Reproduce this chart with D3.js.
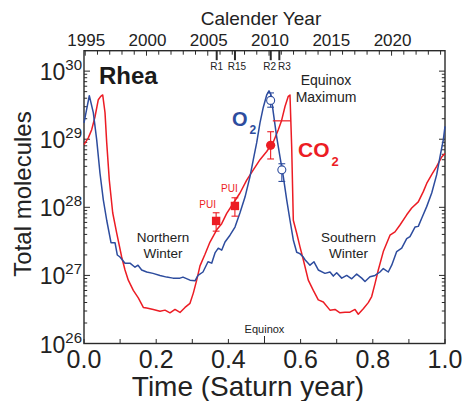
<!DOCTYPE html>
<html><head><meta charset="utf-8">
<script src="https://cdn.jsdelivr.net/npm/d3@7"></script>
<style>
body{margin:0;background:#fff}
svg{display:block;font-family:Arial,"Liberation Sans",Helvetica,sans-serif}
</style>
</head><body>
<svg id="chart" width="462" height="401"></svg>
<script>
// Rhea exosphere: total O2 and CO2 molecules through one Saturn year (log10 values)
const o2Time = [0,0.0147,0.0258,0.0352,0.0443,0.0535,0.0629,0.0748,0.0859,0.0922,0.0997,0.1136,0.1274,0.1413,0.1496,0.1598,0.1737,0.1911,0.2105,0.2291,0.2465,0.2659,0.2742,0.2936,0.3075,0.3158,0.3296,0.3435,0.3537,0.3629,0.3720,0.3814,0.3906,0.4044,0.4183,0.4321,0.4460,0.4598,0.4690,0.4784,0.4875,0.4967,0.5061,0.5125,0.5180,0.5244,0.5338,0.5429,0.5521,0.5615,0.5706,0.5798,0.5892,0.5980,0.6075,0.6122,0.6260,0.6371,0.6490,0.6676,0.6814,0.6906,0.7000,0.7139,0.7277,0.7416,0.7554,0.7693,0.7784,0.7922,0.8061,0.8199,0.8291,0.8429,0.8524,0.8662,0.8801,0.8939,0.9030,0.9169,0.9260,0.9355,0.9493,0.9632,0.9770,0.9861,0.9953,1.0];
const o2Log10 = [29.24,29.64,29.39,28.99,28.50,28.11,27.81,27.48,27.48,27.30,27.27,27.18,27.18,27.12,27.15,27.08,27.05,27.03,27.00,26.975,26.96,26.96,26.975,26.93,26.92,27.00,27.05,27.20,27.18,27.33,27.40,27.37,27.49,27.59,27.71,27.92,28.15,28.45,28.70,28.95,29.24,29.47,29.65,29.71,29.65,29.39,29.03,28.74,28.45,28.11,27.81,27.52,27.34,27.32,27.27,27.23,27.15,27.20,27.08,27.03,27.05,26.99,27.04,26.96,27.00,26.95,27.02,26.96,26.91,26.98,27.00,27.05,27.10,27.05,27.15,27.35,27.40,27.54,27.57,27.71,27.72,27.84,28.01,28.21,28.48,28.74,28.99,29.19];

const co2Time = [0,0.0119,0.0213,0.0305,0.0396,0.0463,0.0518,0.0582,0.0629,0.0701,0.0795,0.0906,0.1044,0.1136,0.1227,0.1366,0.1504,0.1643,0.1737,0.1920,0.2105,0.2244,0.2382,0.2521,0.2659,0.2798,0.2936,0.3028,0.3122,0.3213,0.3352,0.3490,0.3676,0.3814,0.3953,0.4136,0.4321,0.4507,0.4690,0.4875,0.5061,0.5244,0.5382,0.5476,0.5568,0.5659,0.5706,0.5753,0.5798,0.5892,0.5983,0.6075,0.6213,0.6352,0.6490,0.6629,0.6814,0.6953,0.7091,0.7230,0.7368,0.7507,0.7598,0.7737,0.7875,0.7969,0.8061,0.8152,0.8291,0.8476,0.8615,0.8753,0.8939,0.9078,0.9260,0.9399,0.9493,0.9632,0.9770,0.9909,1.0];
const co2Log10 = [28.92,29.02,29.14,29.33,29.58,29.63,29.65,29.39,28.95,28.40,27.92,27.62,27.27,27.08,26.93,26.78,26.67,26.53,26.52,26.50,26.475,26.49,26.45,26.50,26.456,26.53,26.59,26.74,26.93,27.14,27.31,27.49,27.67,27.76,27.91,28.06,28.21,28.40,28.55,28.70,28.82,28.96,29.14,29.28,29.48,29.63,29.65,28.89,27.81,27.62,27.42,27.23,26.93,26.78,26.64,26.61,26.49,26.50,26.45,26.46,26.46,26.50,26.43,26.51,26.60,26.69,26.88,27.08,27.35,27.59,27.64,27.74,27.89,27.99,28.08,28.23,28.35,28.48,28.60,28.74,28.79];

// Pickup-ion (PUI) CO2 estimates
const puiTime = [0.366, 0.418];
const puiLog10 = [27.80, 28.02];
const puiLowLog10 = [27.65, 27.87];
const puiHighLog10 = [27.92, 28.14];

// CO2 from flyby R2, plus a horizontal range estimate
const co2ObsTime = [0.517];
const co2ObsLog10 = [28.91];
const co2ObsLowLog10 = [28.71];
const co2ObsHighLog10 = [29.11];
const co2RangeTime = [0.523, 0.573];
const co2RangeLog10 = 29.27;

// O2 from flybys R2 and R3
const o2ObsTime = [0.517, 0.548];
const o2ObsLog10 = [29.57, 28.55];
const o2ObsLowLog10 = [29.47, 28.38];
const o2ObsHighLog10 = [29.68, 28.64];

// Calendar axis and Cassini flybys
const yearStart = 1994.9;
const saturnYear = 29.46;
const yearLabels = [1995, 2000, 2005, 2010, 2015, 2020];
const flybyNames = ["R1", "R15", "R2", "R3"];
const flybyYears = [2005.73, 2007.22, 2010.14, 2010.84];
const timeTicks = [0,0.1,0.2,0.3,0.4,0.5,0.6,0.7,0.8,0.9,1.0];
const timeLabels = [0,0.2,0.4,0.6,0.8,1.0];
const decades = [26, 27, 28, 29, 30];

const BLUE = "#2d4c9e", RED = "#ec1c24", AX = "#2a2a2a";
const svg = d3.select("#chart");
const L = 84, R = 445, T = 50.7, B = 343.5;

const x = d3.scaleLinear().domain([0, 1]).range([L, R]);
const y = d3.scaleLog().domain([1e26, Math.pow(10, 30.3)]).range([B, T]);
const xYear = d3.scaleLinear().domain([yearStart, yearStart + saturnYear]).range([L, R]);
const pw = v => Math.pow(10, v);

// frame
svg.append("rect").attr("x", L).attr("y", T).attr("width", R - L).attr("height", B - T)
  .attr("fill", "none").attr("stroke", AX).attr("stroke-width", 1.4);

// log ticks, left and right, pointing inward
const yTicks = y.ticks().filter(v => v <= y.domain()[1] * 1.0001);
yTicks.forEach(v => {
  const major = Math.abs(Math.log10(v) - Math.round(Math.log10(v))) < 1e-6;
  const len = major ? 6 : 3.2;
  const yy = y(v);
  svg.append("line").attr("x1", L).attr("x2", L + len).attr("y1", yy).attr("y2", yy).attr("stroke", AX).attr("stroke-width", 1);
  svg.append("line").attr("x1", R).attr("x2", R - len).attr("y1", yy).attr("y2", yy).attr("stroke", AX).attr("stroke-width", 1);
});

// decade labels
decades.forEach(d => {
  const t = svg.append("text").attr("x", 82).attr("y", y(pw(d)) + 9).attr("text-anchor", "end").attr("fill", "#222");
  t.append("tspan").attr("font-size", 23).text("10");
  t.append("tspan").attr("font-size", 15).attr("dy", -10).text(String(d));
});

// bottom time axis
timeTicks.forEach(v => {
  const len = Math.abs(v - 0.5) < 1e-6 ? 7.5 : 4.5;
  svg.append("line").attr("x1", x(v)).attr("x2", x(v)).attr("y1", B).attr("y2", B - len).attr("stroke", AX).attr("stroke-width", 1);
});
timeLabels.forEach(v => {
  svg.append("text").attr("x", x(v)).attr("y", 368).attr("text-anchor", "middle")
    .attr("font-size", 25).attr("fill", "#222").text(v.toFixed(1));
});
svg.append("text").attr("x", 248).attr("y", 396).attr("text-anchor", "middle")
  .attr("font-size", 28).attr("fill", "#222").text("Time (Saturn year)");

// top calendar axis
d3.range(1995, 2025).forEach(yr => {
  const xx = xYear(yr);
  if (xx > R + 0.5) return;
  svg.append("line").attr("x1", xx).attr("x2", xx).attr("y1", T).attr("y2", T + (yr % 5 === 0 ? 5 : 4))
    .attr("stroke", AX).attr("stroke-width", 1);
});
yearLabels.forEach(yr => {
  svg.append("text").attr("x", xYear(yr) + 1).attr("y", 45.5).attr("text-anchor", "middle")
    .attr("font-size", 17).attr("fill", "#222").text(yr);
});
svg.append("text").attr("x", 261).attr("y", 25).attr("text-anchor", "middle")
  .attr("font-size", 19).attr("fill", "#222").text("Calender Year");

// flyby markers
const flybyDx = [0, 2, -1, 5];
flybyNames.forEach((n, i) => {
  const xx = xYear(flybyYears[i]);
  svg.append("line").attr("x1", xx).attr("x2", xx).attr("y1", T).attr("y2", T + 9.5)
    .attr("stroke", AX).attr("stroke-width", 2);
  svg.append("text").attr("x", xx + flybyDx[i]).attr("y", 70).attr("text-anchor", "middle")
    .attr("font-size", 10).attr("fill", "#222").text(n);
});

// model curves
const line = d3.line().x(d => x(d[0])).y(d => y(pw(d[1])));
svg.append("path").datum(co2Time.map((t, i) => [t, co2Log10[i]]))
  .attr("d", line).attr("fill", "none").attr("stroke", RED).attr("stroke-width", 1.5).attr("stroke-linejoin", "round");
svg.append("path").datum(o2Time.map((t, i) => [t, o2Log10[i]]))
  .attr("d", line).attr("fill", "none").attr("stroke", BLUE).attr("stroke-width", 1.5).attr("stroke-linejoin", "round");

// error bar helper
function errBar(t, lo, hi, color) {
  const xx = x(t), cap = 3.4;
  svg.append("line").attr("x1", xx).attr("x2", xx).attr("y1", y(pw(lo))).attr("y2", y(pw(hi))).attr("stroke", color).attr("stroke-width", 1.1);
  [lo, hi].forEach(v => svg.append("line").attr("x1", xx - cap).attr("x2", xx + cap)
    .attr("y1", y(pw(v))).attr("y2", y(pw(v))).attr("stroke", color).attr("stroke-width", 1.1));
}

// PUI squares
puiTime.forEach((t, i) => {
  errBar(t, puiLowLog10[i], puiHighLog10[i], RED);
  svg.append("rect").attr("x", x(t) - 4.2).attr("y", y(pw(puiLog10[i])) - 4.2)
    .attr("width", 8.4).attr("height", 8.4).attr("fill", RED);
});
const puiDx = [-8.5, -5.5], puiDy = [-12.5, -14];
puiTime.forEach((t, i) => {
  svg.append("text").attr("x", x(t) + puiDx[i]).attr("y", y(pw(puiLog10[i])) + puiDy[i])
    .attr("text-anchor", "middle").attr("font-size", 10).attr("fill", RED).text("PUI");
});

// CO2 observation and range
co2ObsTime.forEach((t, i) => {
  errBar(t, co2ObsLowLog10[i], co2ObsHighLog10[i], RED);
  svg.append("circle").attr("cx", x(t)).attr("cy", y(pw(co2ObsLog10[i]))).attr("r", 4.6).attr("fill", RED);
});
svg.append("line").attr("x1", x(co2RangeTime[0])).attr("x2", x(co2RangeTime[1]))
  .attr("y1", y(pw(co2RangeLog10))).attr("y2", y(pw(co2RangeLog10))).attr("stroke", RED).attr("stroke-width", 1.2);

// O2 observations
o2ObsTime.forEach((t, i) => {
  errBar(t, o2ObsLowLog10[i], o2ObsHighLog10[i], BLUE);
  svg.append("circle").attr("cx", x(t)).attr("cy", y(pw(o2ObsLog10[i]))).attr("r", 4)
    .attr("fill", "#fff").attr("stroke", BLUE).attr("stroke-width", 1.1);
});

// annotations
svg.append("text").attr("x", 99).attr("y", 84).attr("font-size", 24).attr("font-weight", "bold").attr("fill", "#1a1a1a").text("Rhea");
const o2t = svg.append("text").attr("x", 232).attr("y", 126).attr("fill", BLUE).attr("font-weight", "bold");
o2t.append("tspan").attr("font-size", 20).text("O");
o2t.append("tspan").attr("font-size", 12).attr("dy", 8).attr("dx", 2).text("2");
const co2t = svg.append("text").attr("x", 298).attr("y", 157).attr("fill", RED).attr("font-weight", "bold");
co2t.append("tspan").attr("font-size", 21).text("CO");
co2t.append("tspan").attr("font-size", 13).attr("dy", 9).attr("dx", 2).text("2");

function twoLine(cx, y1, a, b, size) {
  svg.append("text").attr("x", cx).attr("y", y1).attr("text-anchor", "middle").attr("font-size", size).attr("fill", "#222").text(a);
  svg.append("text").attr("x", cx).attr("y", y1 + (size + 2.5)).attr("text-anchor", "middle").attr("font-size", size).attr("fill", "#222").text(b);
}
twoLine(326, 85, "Equinox", "Maximum", 14);
twoLine(163, 241.5, "Northern", "Winter", 13.5);
twoLine(348.5, 241.5, "Southern", "Winter", 13.5);
svg.append("text").attr("x", 264.5).attr("y", 333.3).attr("text-anchor", "middle").attr("font-size", 11).attr("fill", "#222").text("Equinox");

// y title
svg.append("text").attr("transform", "translate(31,194) rotate(-90)").attr("text-anchor", "middle")
  .attr("font-size", 24).attr("fill", "#222").text("Total molecules");
</script>
</body></html>
